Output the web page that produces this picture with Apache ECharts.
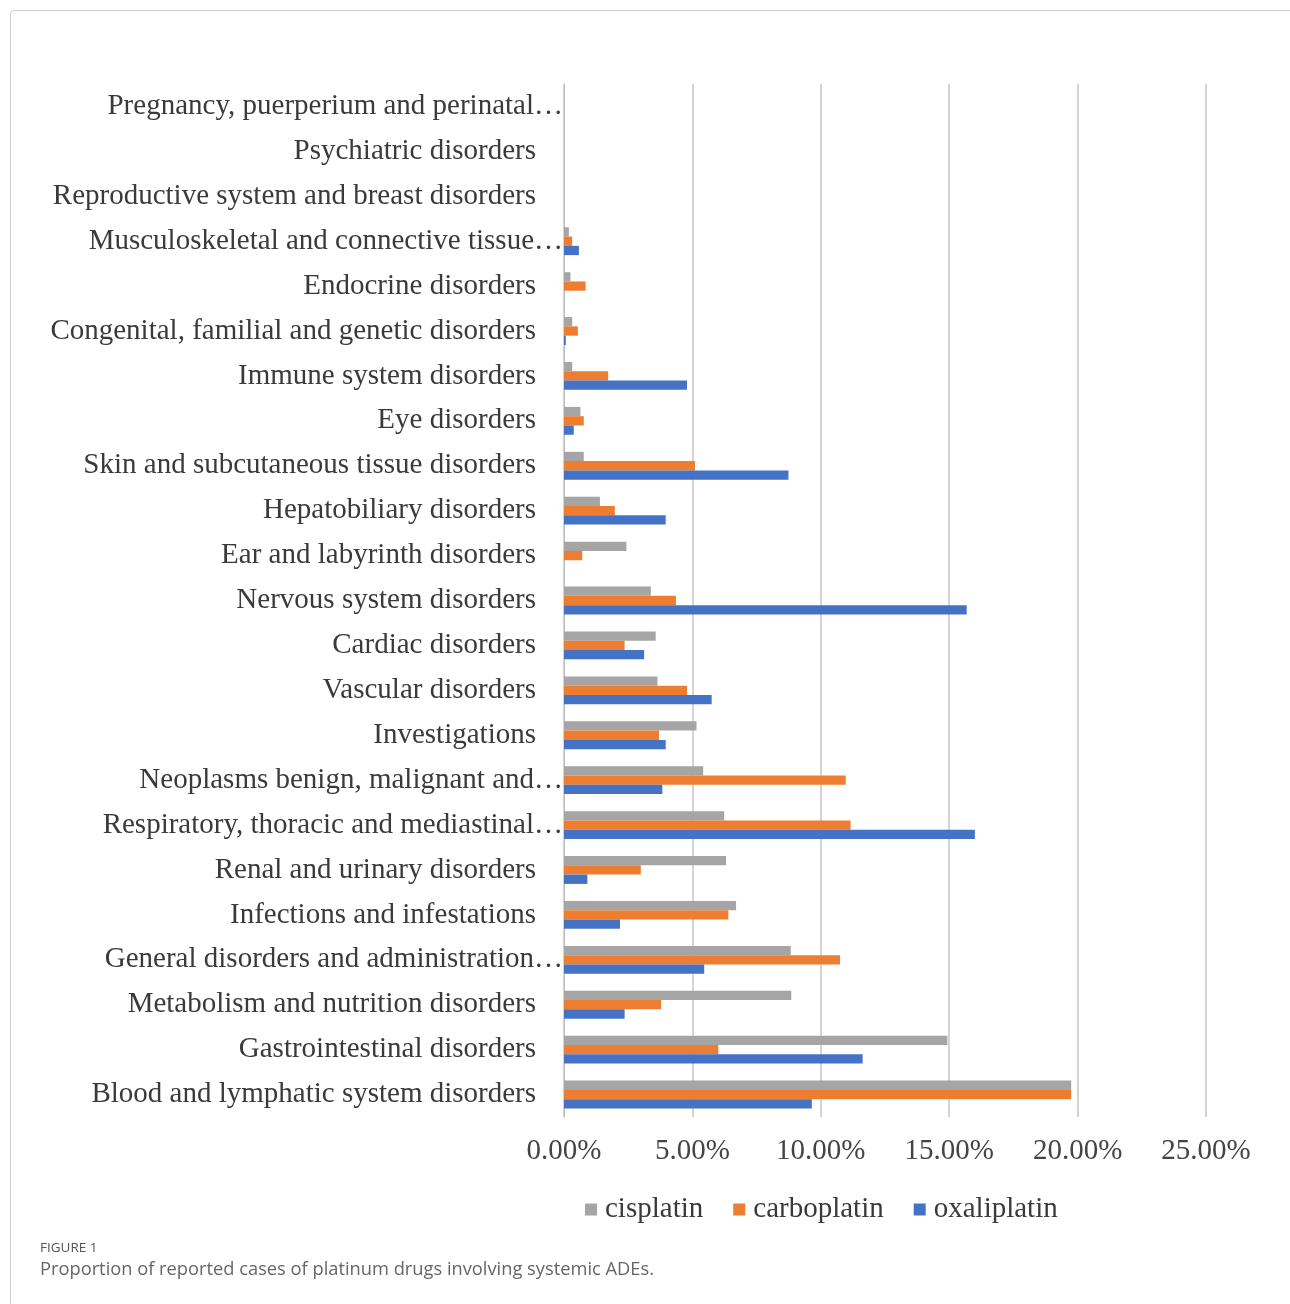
<!DOCTYPE html>
<html>
<head>
<meta charset="utf-8">
<script src="https://cdn.jsdelivr.net/npm/echarts@6/dist/echarts.min.js"></script>
<style>
html,body{margin:0;padding:0;background:#fff;}
#chart{position:absolute;left:0;top:0;width:1290px;height:1304px;}
#frame{position:absolute;left:10px;top:10px;width:1300px;height:1400px;border:1px solid #d0d0d0;border-radius:4px;pointer-events:none;box-sizing:border-box;}
</style>
</head>
<body>
<div id="chart"></div>
<div id="frame"></div>
<script>
// Categories, bottom to top
const categories = [
  'Blood and lymphatic system disorders',
  'Gastrointestinal disorders',
  'Metabolism and nutrition disorders',
  'General disorders and administration…',
  'Infections and infestations',
  'Renal and urinary disorders',
  'Respiratory, thoracic and mediastinal…',
  'Neoplasms benign, malignant and…',
  'Investigations',
  'Vascular disorders',
  'Cardiac disorders',
  'Nervous system disorders',
  'Ear and labyrinth disorders',
  'Hepatobiliary disorders',
  'Skin and subcutaneous tissue disorders',
  'Eye disorders',
  'Immune system disorders',
  'Congenital, familial and genetic disorders',
  'Endocrine disorders',
  'Musculoskeletal and connective tissue…',
  'Reproductive system and breast disorders',
  'Psychiatric disorders',
  'Pregnancy, puerperium and perinatal…'
];
// values in percent
const cisplatin   = [19.75, 14.93, 8.85, 8.83, 6.70, 6.31, 6.24, 5.42, 5.16, 3.64, 3.57, 3.38, 2.43, 1.40, 0.77, 0.64, 0.32, 0.32, 0.25, 0.19, 0, 0, 0];
const carboplatin = [19.75, 6.01, 3.78, 10.75, 6.40, 2.99, 11.16, 10.97, 3.70, 4.79, 2.36, 4.36, 0.71, 1.98, 5.10, 0.77, 1.72, 0.54, 0.84, 0.32, 0, 0, 0];
const oxaliplatin = [9.65, 11.63, 2.36, 5.46, 2.18, 0.91, 16.00, 3.83, 3.96, 5.75, 3.12, 15.68, 0, 3.96, 8.74, 0.38, 4.79, 0.07, 0, 0.58, 0, 0, 0];
const seriesNames = ['cisplatin', 'carboplatin', 'oxaliplatin'];
const xTicks = { min: 0, max: 25, interval: 5 };

const serif = '"Liberation Serif", "Times New Roman", serif';
const chart = echarts.init(document.getElementById('chart'), null, { renderer: 'canvas' });

function mkSeries(name, data, color) {
  return {
    name: name, type: 'bar', data: data,
    barGap: '0%', barCategoryGap: '38%',
    itemStyle: { color: color, borderWidth: 0 },
    emphasis: { disabled: true }
  };
}

chart.setOption({
  animation: false,
  backgroundColor: '#ffffff',
  grid: { left: 564, right: 84, top: 84, bottom: 187 },
  xAxis: {
    type: 'value', min: xTicks.min, max: xTicks.max, interval: xTicks.interval,
    axisLine: { show: false }, axisTick: { show: false },
    splitLine: { show: true, lineStyle: { color: '#d4d4d4', width: 2 } },
    axisLabel: {
      formatter: v => v.toFixed(2) + '%',
      fontFamily: serif, fontSize: 29, color: '#444', margin: 20
    }
  },
  yAxis: {
    type: 'category', data: categories,
    axisLine: { show: true, lineStyle: { color: '#bdbdbd', width: 1 } },
    axisTick: { show: false },
    axisLabel: {
      interval: 0, margin: 1,
      formatter: v => (v.endsWith('…') ? '{t|' + v + '}' : '{n|' + v + '}'),
      rich: {
        n: { fontFamily: serif, fontSize: 29, color: '#3a3a3a', padding: [0, 27, 0, 0] },
        t: { fontFamily: serif, fontSize: 29, color: '#3a3a3a', padding: [0, 0, 0, 0] }
      }
    }
  },
  legend: {
    data: seriesNames, left: 580, top: 1190,
    icon: 'rect', itemWidth: 12, itemHeight: 12, itemGap: 30,
    textStyle: { fontFamily: serif, fontSize: 29, color: '#3a3a3a', padding: [0, 0, 0, 3] }
  },
  series: [
    mkSeries(seriesNames[0], cisplatin, '#a5a5a5'),
    mkSeries(seriesNames[1], carboplatin, '#ed7d31'),
    mkSeries(seriesNames[2], oxaliplatin, '#4472c4')
  ],
  graphic: [
    { type: 'text', left: 40, top: 1241, style: { text: 'FIGURE 1', font: '13.5px "Open Sans", "Noto Sans", sans-serif', fill: '#555' } },
    { type: 'text', left: 40, top: 1261, style: { text: 'Proportion of reported cases of platinum drugs involving systemic ADEs.', font: '18.3px "Open Sans", "Noto Sans", sans-serif', fill: '#666' } }
  ]
});
</script>
</body>
</html>
